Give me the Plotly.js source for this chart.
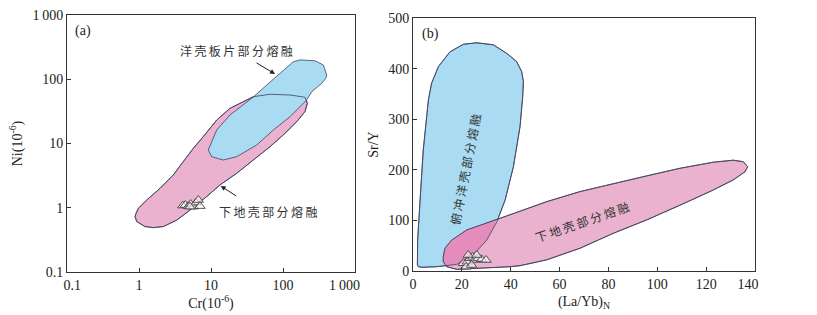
<!DOCTYPE html>
<html><head><meta charset="utf-8">
<script src="https://cdn.plot.ly/plotly-3.0.1.min.js"></script>
<style>html,body{margin:0;padding:0;background:#fff}#g{width:817px;height:315px}</style>
</head><body><div id="g"></div>
<script>
// ---- Panel (a): Cr vs Ni (log-log) ----
const lcCr = [0.91,0.98,1.28,1.96,2.99,4.12,5.68,7.81,12.0,18.4,28.1,38.7,65.9,125,202,218,202,155,101,65.9,38.7,22.8,13.3,8.71,5.11,3.34,2.18,1.58,1.21,0.93,0.88,0.91];
const lcNi = [0.82,0.98,1.32,2.01,3.24,5.21,8.41,12.8,23.2,35.3,44.8,53.5,58.3,56.9,52.4,42.3,31.3,21.8,13.6,8.9,5.53,3.44,2.26,1.49,0.92,0.64,0.51,0.49,0.51,0.61,0.73,0.82];
const osCr = [172,278,363,405,395,345,251,213,125,73.3,43.2,22.8,14.8,10.2,9.18,12.0,18.4,28.1,38.7,59.4,90.8,139,172];
const osNi = [200,194,167,116,104,86.5,64,47.5,26.1,16.2,9.5,6.24,5.53,6.24,7.93,16.2,27.8,39.7,53,81.3,124,187,200];
const sampCr = [4.05,4.39,4.84,5.22,5.68,6.19,6.66,7.04,5.11];
const sampNi = [1.08,1.10,1.06,1.14,1.04,1.20,1.32,1.06,1.04];
const logTickVals = [0.1,1,10,100,1000];
const logTickTextX = ['\u00a0\u00a0\u00a00.1','1','10','100','1\u2009000\u00a0\u00a0\u00a0\u00a0\u00a0\u00a0'];
const logTickTextY = ['0.1','1','10','100','1\u2009000'];

// ---- Panel (b): (La/Yb)N vs Sr/Y ----
const socLaYb = [1.8,1.9,2.9,4.2,6.3,7.6,10.4,15.1,20.6,26.1,32.9,38.4,42.4,44.5,45.2,44.9,43.8,41.1,37.7,34.3,30.2,24.7,17.9,9.7,3.6,2.2,1.8];
const socSrY  = [11.9,61,140,239,338,371,404,433,448,451,447,430,414,394,374,344,285,206,140,97,61,32,13,8.5,7.3,8.5,11.9];
const lcLaYb = [12.4,13.1,15.8,22,31.5,41.1,54.7,68.4,82,95.7,109.3,122.9,131.1,135.2,137,135.9,131.1,122.9,109.3,95.7,82,68.4,54.7,43.8,39.7,27.4,17.9,13.8,12.4,12.4];
const lcSrY  = [28,45,61,81,97,114,137,157,173,188,203,215,219,216,206,196,180,160,130,101,74.5,45,22,10.5,8.5,5.3,3.3,8.5,18,28];
const ovLaYb = [34.3,31.5,22,15.8,13.1,12.4,12.4,13.2,17.9,24.7,30.2,34.3];
const ovSrY  = [98,97,81,61,45,28,18,10,13,32,61,98];
const sampLaYb = [20.6,22.2,23.3,24.4,25.4,26.7,28.1,29.9,21.7,24.0,22.6,26.1];
const sampSrY  = [15.2,18.4,25,28,21.7,25,23,21.7,8.5,11.9,31.6,31.6];
const linTickX = [0,20,40,60,80,100,120,140];
const linTickXText = ['0','20','40','60','80','100','120','140\u00a0\u00a0\u00a0\u00a0'];
const linTickY = [0,100,200,300,400,500];

const BLUE = '#A9DCF2', PINK = '#EBB2CF', OVER = '#E48CBC', EDGE = '#3f4060';
const serif = 'Liberation Serif, Times New Roman, serif';
const cjk = 'Noto Sans CJK SC';
const sp = s => s.split('').join('\u2009');

const traces = [
  {x: lcCr, y: lcNi, xaxis:'x', yaxis:'y', mode:'lines', fill:'toself', fillcolor:PINK, line:{color:EDGE,width:0.8}, hoverinfo:'skip'},
  {x: osCr, y: osNi, xaxis:'x', yaxis:'y', mode:'lines', fill:'toself', fillcolor:BLUE, line:{color:EDGE,width:0.8}, hoverinfo:'skip'},
  {x: lcCr, y: lcNi, xaxis:'x', yaxis:'y', mode:'lines', line:{color:EDGE,width:0.8}, hoverinfo:'skip'},
  {x: sampCr, y: sampNi, xaxis:'x', yaxis:'y', mode:'markers', marker:{symbol:'triangle-up', size:9, color:'rgba(255,255,255,0.6)', line:{color:'#444',width:0.9}}},
  {x: socLaYb, y: socSrY, xaxis:'x2', yaxis:'y2', mode:'lines', fill:'toself', fillcolor:BLUE, line:{color:EDGE,width:0.8}, hoverinfo:'skip'},
  {x: lcLaYb, y: lcSrY, xaxis:'x2', yaxis:'y2', mode:'lines', fill:'toself', fillcolor:PINK, line:{color:EDGE,width:0.8}, hoverinfo:'skip'},
  {x: ovLaYb, y: ovSrY, xaxis:'x2', yaxis:'y2', mode:'none', fill:'toself', fillcolor:OVER, hoverinfo:'skip'},
  {x: socLaYb, y: socSrY, xaxis:'x2', yaxis:'y2', mode:'lines', line:{color:EDGE,width:0.8}, hoverinfo:'skip'},
  {x: lcLaYb, y: lcSrY, xaxis:'x2', yaxis:'y2', mode:'lines', line:{color:EDGE,width:0.8}, hoverinfo:'skip'},
  {x: sampLaYb, y: sampSrY, xaxis:'x2', yaxis:'y2', mode:'markers', marker:{symbol:'triangle-up', size:9, color:'rgba(255,255,255,0.6)', line:{color:'#444',width:0.9}}}
];

const axBase = {showgrid:false, zeroline:false, showline:true, mirror:true, linecolor:'#333', linewidth:1,
  ticks:'inside', ticklen:4, tickcolor:'#333', tickfont:{family:serif,size:14,color:'#222'}};
const tf = {family:serif,size:14,color:'#222'};

const layout = {
  width:817, height:315, margin:{l:0,r:0,t:0,b:0}, showlegend:false,
  paper_bgcolor:'#fff', plot_bgcolor:'#fff',
  xaxis: Object.assign({}, axBase, {domain:[67/817,355/817], type:'log', range:[-1,3], tickvals:logTickVals, ticktext:logTickTextX,
    title:{text:'Cr(10<sup>-6</sup>)', font:tf, standoff:5}, anchor:'y'}),
  yaxis: Object.assign({}, axBase, {domain:[43/315,300/315], type:'log', range:[-1,3], tickvals:logTickVals, ticktext:logTickTextY,
    title:{text:'Ni(10<sup>-6</sup>)', font:tf, standoff:6}, anchor:'x'}),
  xaxis2: Object.assign({}, axBase, {domain:[413/817,755/817], range:[0,140], tickvals:linTickX, ticktext:linTickXText,
    title:{text:'(La/Yb)<sub>N</sub>', font:tf, standoff:5}, anchor:'y2'}),
  yaxis2: Object.assign({}, axBase, {domain:[44/315,297/315], range:[0,500], tickvals:linTickY,
    title:{text:'Sr/Y', font:tf, standoff:6}, anchor:'x2'}),
  annotations: [
    {xref:'x domain', yref:'y domain', x:0.02, y:0.975, xanchor:'left', yanchor:'top', showarrow:false, text:'(a)', font:{family:serif,size:14,color:'#222'}},
    {xref:'x2 domain', yref:'y2 domain', x:0.02, y:0.975, xanchor:'left', yanchor:'top', showarrow:false, text:'(b)', font:{family:serif,size:14,color:'#222'}},
    {xref:'x', yref:'y', x:1.361, y:2.44, showarrow:false, text:sp('洋壳板片部分熔融'), font:{family:cjk,size:12,color:'#333'}},
    {xref:'x', yref:'y', x:1.792, y:-0.066, showarrow:false, text:sp('下地壳部分熔融'), font:{family:cjk,size:12,color:'#333'}},
    {xref:'x', yref:'y', x:1.889, y:2.082, ax:-20, ay:-12, showarrow:true, arrowhead:2, arrowsize:1, arrowwidth:1, arrowcolor:'#222', text:''},
    {xref:'x', yref:'y', x:1.135, y:0.339, ax:17, ay:11, showarrow:true, arrowhead:2, arrowsize:1, arrowwidth:1, arrowcolor:'#222', text:''},
    {xref:'x2', yref:'y2', x:21.3, y:200, showarrow:false, textangle:-79, text:sp('俯冲洋壳部分熔融'), font:{family:cjk,size:12,color:'#333'}},
    {xref:'x2', yref:'y2', x:69, y:97, showarrow:false, textangle:-19, text:sp('下地壳部分熔融'), font:{family:cjk,size:12,color:'#333'}}
  ]
};
Plotly.newPlot('g', traces, layout, {staticPlot:true, displayModeBar:false});
</script></body></html>
